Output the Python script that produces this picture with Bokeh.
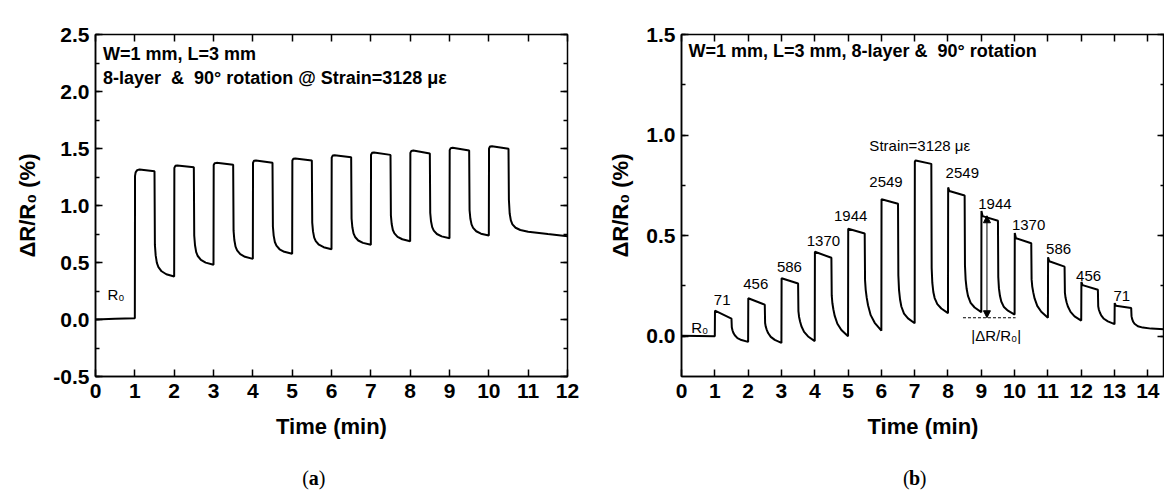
from bokeh.plotting import figure
from bokeh.layouts import row, column
from bokeh.models import (Range1d, SingleIntervalTicker, LinearAxis, PrintfTickFormatter,
                          Label, Arrow, NormalHead)
from bokeh.embed import file_html
from bokeh.resources import INLINE

# ---------------- data: panel (a) ----------------
time_a = [0.0, 0.5, 1.0,
          1.005, 1.02, 1.06, 1.12, 1.5, 1.51, 1.53, 1.56, 1.60, 1.68, 1.80, 2.0,
          2.005, 2.03, 2.08, 2.5, 2.51, 2.53, 2.56, 2.60, 2.68, 2.80, 3.0,
          3.005, 3.03, 3.08, 3.5, 3.51, 3.53, 3.56, 3.60, 3.68, 3.80, 4.0,
          4.005, 4.03, 4.08, 4.5, 4.51, 4.53, 4.56, 4.60, 4.68, 4.80, 5.0,
          5.005, 5.03, 5.08, 5.5, 5.51, 5.53, 5.56, 5.60, 5.68, 5.80, 6.0,
          6.005, 6.03, 6.08, 6.5, 6.51, 6.53, 6.56, 6.60, 6.68, 6.80, 7.0,
          7.005, 7.03, 7.08, 7.5, 7.51, 7.53, 7.56, 7.60, 7.68, 7.80, 8.0,
          8.005, 8.03, 8.08, 8.5, 8.51, 8.53, 8.56, 8.60, 8.68, 8.80, 9.0,
          9.005, 9.03, 9.08, 9.5, 9.51, 9.53, 9.56, 9.60, 9.68, 9.80, 10.0,
          10.005, 10.03, 10.08, 10.5, 10.51, 10.53, 10.56, 10.60, 10.68, 10.80, 11.0, 11.5, 12.0]
dr_a = [0.000, 0.006, 0.012,
        1.26, 1.29, 1.31, 1.316, 1.30, 0.654, 0.562, 0.497, 0.460, 0.423, 0.397, 0.377,
        1.33, 1.348, 1.351, 1.336, 0.737, 0.651, 0.591, 0.557, 0.523, 0.499, 0.480,
        1.355, 1.371, 1.374, 1.357, 0.779, 0.697, 0.639, 0.606, 0.573, 0.550, 0.532,
        1.375, 1.392, 1.395, 1.375, 0.816, 0.736, 0.680, 0.648, 0.616, 0.594, 0.576,
        1.395, 1.410, 1.413, 1.395, 0.850, 0.773, 0.718, 0.687, 0.656, 0.634, 0.617,
        1.420, 1.438, 1.441, 1.424, 0.886, 0.809, 0.755, 0.724, 0.693, 0.672, 0.655,
        1.445, 1.462, 1.465, 1.444, 0.914, 0.838, 0.785, 0.755, 0.725, 0.704, 0.687,
        1.462, 1.479, 1.482, 1.457, 0.936, 0.862, 0.810, 0.780, 0.750, 0.729, 0.713,
        1.486, 1.503, 1.506, 1.482, 0.960, 0.886, 0.834, 0.804, 0.774, 0.753, 0.737,
        1.500, 1.517, 1.520, 1.497, 1.050, 0.930, 0.870, 0.835, 0.805, 0.785, 0.770, 0.750, 0.731]

# ---------------- data: panel (b) ----------------
time_b = [0.0, 1.0,
          1.005, 1.5, 1.51, 1.53, 1.56, 1.60, 1.68, 1.80, 2.0,
          2.005, 2.5, 2.51, 2.53, 2.56, 2.60, 2.68, 2.80, 3.0,
          3.005, 3.5, 3.51, 3.53, 3.56, 3.60, 3.68, 3.80, 4.0,
          4.005, 4.5, 4.51, 4.53, 4.56, 4.60, 4.68, 4.80, 5.0,
          5.005, 5.5, 5.51, 5.53, 5.56, 5.60, 5.68, 5.80, 6.0,
          6.005, 6.5, 6.51, 6.53, 6.56, 6.60, 6.68, 6.80, 7.0,
          7.005, 7.03, 7.5, 7.51, 7.53, 7.56, 7.60, 7.68, 7.80, 8.0,
          8.005, 8.04, 8.5, 8.51, 8.53, 8.56, 8.60, 8.68, 8.80, 9.0,
          9.005, 9.04, 9.5, 9.51, 9.53, 9.56, 9.60, 9.68, 9.80, 10.0,
          10.005, 10.04, 10.5, 10.51, 10.53, 10.56, 10.60, 10.68, 10.80, 11.0,
          11.005, 11.04, 11.5, 11.51, 11.53, 11.56, 11.60, 11.68, 11.80, 12.0,
          12.005, 12.04, 12.5, 12.51, 12.53, 12.56, 12.60, 12.68, 12.80, 13.0,
          13.005, 13.04, 13.5, 13.51, 13.53, 13.56, 13.60, 13.70, 13.85, 14.1, 14.5]
dr_b = [0.002, 0.000,
        0.127, 0.088, 0.045, 0.030, 0.016, 0.005, -0.009, -0.019, -0.028,
        0.189, 0.157, 0.066, 0.047, 0.032, 0.016, -0.003, -0.018, -0.033,
        0.288, 0.262, 0.125, 0.096, 0.073, 0.050, 0.022, -0.001, -0.024,
        0.420, 0.390, 0.203, 0.164, 0.133, 0.101, 0.062, 0.031, 0.000,
        0.534, 0.511, 0.279, 0.231, 0.192, 0.154, 0.105, 0.067, 0.028,
        0.681, 0.659, 0.303, 0.231, 0.184, 0.148, 0.113, 0.089, 0.065,
        0.868, 0.874, 0.857, 0.340, 0.265, 0.220, 0.190, 0.160, 0.138, 0.115,
        0.740, 0.722, 0.700, 0.352, 0.282, 0.236, 0.201, 0.166, 0.143, 0.120,
        0.623, 0.597, 0.574, 0.294, 0.238, 0.201, 0.173, 0.145, 0.127, 0.108,
        0.513, 0.487, 0.462, 0.284, 0.247, 0.218, 0.188, 0.151, 0.122, 0.092,
        0.393, 0.373, 0.346, 0.217, 0.191, 0.169, 0.148, 0.121, 0.099, 0.078,
        0.270, 0.254, 0.231, 0.149, 0.132, 0.118, 0.104, 0.087, 0.074, 0.060,
        0.165, 0.152, 0.140, 0.100, 0.085, 0.072, 0.062, 0.050, 0.043, 0.038, 0.035]

# strain labels in panel (b)
strain_labels = ["71", "456", "586", "1370", "1944", "2549", "2549", "1944", "1370", "586", "456", "71"]
strain_x = [1.22, 2.23, 3.24, 4.26, 5.08, 6.14, 8.43, 9.41, 10.42, 11.32, 12.22, 13.22]
strain_y = [0.181, 0.259, 0.345, 0.472, 0.599, 0.768, 0.810, 0.657, 0.552, 0.433, 0.301, 0.202]

# |dR/R0| guide in panel (b)
guide_x = [8.45, 10.03]
guide_level = 0.092
arrow_x = 9.17
arrow_top = 0.599

FONT = "Liberation Sans"
SERIF = "Liberation Serif"
NB = "\u00a0"


def base_fig(xr, yr, left, right, top, bottom):
    p = figure(width=582, height=462, x_range=Range1d(*xr), y_range=Range1d(*yr),
               output_backend="svg", toolbar_location=None,
               min_border_left=left, min_border_right=right,
               min_border_top=top, min_border_bottom=bottom)
    p.grid.visible = False
    p.outline_line_color = "black"
    p.outline_line_width = 1.5
    p.background_fill_color = "white"
    p.border_fill_color = "white"

    xt = SingleIntervalTicker(interval=1)
    yt = SingleIntervalTicker(interval=0.5, num_minor_ticks=2)
    p.xaxis.ticker = xt
    p.yaxis.ticker = yt
    p.yaxis.formatter = PrintfTickFormatter(format="%.1f")
    for ax in (p.xaxis[0], p.yaxis[0]):
        ax.axis_line_width = 1.5
        ax.major_tick_in = 7
        ax.major_tick_out = 0
        ax.minor_tick_in = 4
        ax.minor_tick_out = 0
        ax.major_tick_line_width = 1.5
        ax.minor_tick_line_width = 1.5
        ax.major_label_text_font = FONT
        ax.major_label_text_font_style = "bold"
        ax.major_label_text_font_size = "21px"
        ax.major_label_text_color = "black"
        ax.axis_label_text_font = FONT
        ax.axis_label_text_font_style = "bold"
        ax.axis_label_text_font_size = "22px"
        ax.axis_label_text_color = "black"
    p.xaxis.minor_tick_line_color = None
    p.xaxis.major_label_standoff = 7
    p.xaxis.axis_label_standoff = 13
    p.yaxis.major_label_standoff = 6
    p.yaxis.axis_label_standoff = 10
    p.xaxis.axis_label = "Time (min)"
    p.yaxis.axis_label = "ΔR/R₀ (%)"

    top_ax = LinearAxis(ticker=xt, major_label_text_font_size="1px", major_label_text_color=None,
                        major_label_standoff=0,
                        major_tick_in=7, major_tick_out=0, minor_tick_line_color=None,
                        axis_line_color=None, major_tick_line_width=1.5)
    right_ax = LinearAxis(ticker=yt, major_label_text_font_size="1px", major_label_text_color=None,
                          major_label_standoff=0,
                          major_tick_in=7, major_tick_out=0, minor_tick_in=4, minor_tick_out=0,
                          axis_line_color=None, major_tick_line_width=1.5, minor_tick_line_width=1.5)
    p.add_layout(top_ax, "above")
    p.add_layout(right_ax, "right")
    return p


def label(p, x, y, text, size="17px", style="normal", align="left", font=FONT, x_offset=0):
    p.add_layout(Label(x=x, y=y, text=text, text_font=font, text_font_size=size,
                       text_font_style=style, text_align=align, text_baseline="middle",
                       text_color="black", x_offset=x_offset))


def caption_fig(main, x, letter):
    c = figure(width=582, height=28, x_range=main.x_range, y_range=Range1d(0, 1),
               output_backend="svg", toolbar_location=None,
               x_axis_type=None, y_axis_type=None,
               min_border_left=main.min_border_left, min_border_right=main.min_border_right,
               min_border_top=0, min_border_bottom=0)
    c.grid.visible = False
    c.outline_line_color = None
    c.background_fill_color = "white"
    c.border_fill_color = "white"
    label(c, x, 0.46, "(", size="20px", align="right", font=SERIF, x_offset=-5)
    label(c, x, 0.46, letter, size="20px", style="bold", align="center", font=SERIF)
    label(c, x, 0.46, ")", size="20px", align="left", font=SERIF, x_offset=5)
    return c


# ---------------- panel (a) ----------------
pa = base_fig((0, 12), (-0.5, 2.5), 95, 15, 34, 86)
pa.line(time_a, dr_a, line_color="black", line_width=2)
label(pa, 0.19, 2.325, "W=1 mm, L=3 mm", size="18px", style="bold")
label(pa, 0.19, 2.115, "8-layer" + NB + " & " + NB + "90° rotation @ Strain=3128 με", size="18px", style="bold")
label(pa, 0.52, 0.22, "R₀", size="15px", align="center")

# ---------------- panel (b) ----------------
pb = base_fig((0, 14.5), (-0.2, 1.5), 99, 0, 26, 86)
pb.line(time_b, dr_b, line_color="black", line_width=2)
label(pb, 0.21, 1.417, "W=1 mm, L=3 mm, 8-layer &" + NB + " 90° rotation", size="18px", style="bold")
label(pb, 5.64, 0.946, "Strain=3128 με", size="15px")
for sx, sy, st in zip(strain_x, strain_y, strain_labels):
    label(pb, sx, sy, st, size="15px", align="center")
label(pb, 0.55, 0.045, "R₀", size="15px", align="center")
label(pb, 9.45, 0.005, "|ΔR/R₀|", size="15px", align="center")
pb.segment(x0=[guide_x[0]], y0=[guide_level], x1=[guide_x[1]], y1=[guide_level],
           line_color="black", line_width=1, line_dash="3 2")
pb.add_layout(Arrow(start=NormalHead(size=7, fill_color="black", line_color="black"),
                    end=NormalHead(size=7, fill_color="black", line_color="black"),
                    x_start=arrow_x, y_start=guide_level, x_end=arrow_x, y_end=arrow_top,
                    line_color="black", line_width=1))

ca = caption_fig(pa, 5.55, "a")
cb = caption_fig(pb, 7.0, "b")

layout = column(row(pa, pb), row(ca, cb))
open("out.html", "w").write(file_html(layout, INLINE))
